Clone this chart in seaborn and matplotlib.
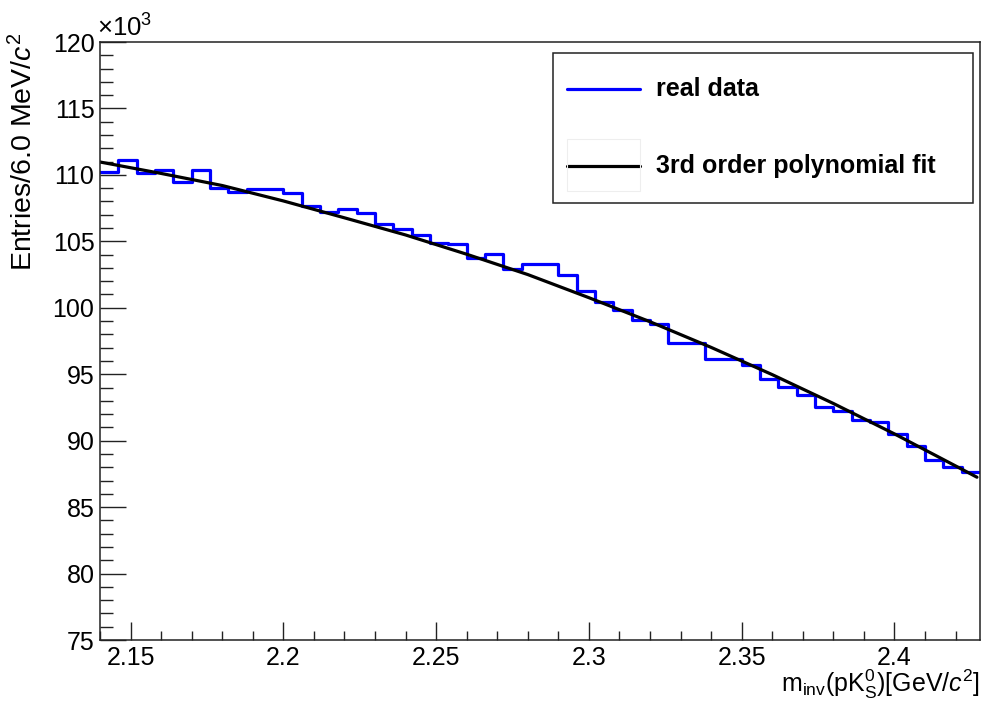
import numpy as np
import pandas as pd
import matplotlib
matplotlib.use("Agg")
import matplotlib.pyplot as plt
import seaborn as sns
from matplotlib.ticker import MultipleLocator, FormatStrFormatter
from matplotlib.patches import Rectangle
from matplotlib.lines import Line2D

# histogram binning: 48 bins of 6 MeV starting at 2.140 GeV
bin_lo = 2.140
bin_width = 0.006

# entries per bin (x10^3)
counts = [110.24, 111.12, 110.17, 110.37, 109.44, 110.37, 108.99, 108.74,
          108.92, 108.92, 108.67, 107.65, 107.23, 107.43, 107.11, 106.28,
          105.91, 105.48, 104.85, 104.78, 103.72, 104.05, 102.90, 103.30,
          103.30, 102.47, 101.29, 100.41, 99.83, 99.08, 98.78, 97.33,
          97.33, 96.15, 96.15, 95.70, 94.62, 94.07, 93.44, 92.56,
          92.23, 91.56, 91.43, 90.48, 89.63, 88.55, 88.04, 87.62]

# 3rd order polynomial fit curve (x10^3), read at a few points
fit_x = [2.140, 2.160, 2.180, 2.200, 2.220, 2.240, 2.260, 2.280,
         2.300, 2.320, 2.340, 2.360, 2.380, 2.400, 2.420, 2.427]
fit_y = [110.97, 110.11, 109.20, 108.04, 106.77, 105.48, 104.03, 102.50,
         100.76, 98.95, 97.02, 94.97, 92.80, 90.51, 88.10, 87.25]

sns.set_style("white")
plt.rcParams["font.family"] = ["Liberation Sans", "DejaVu Sans"]
plt.rcParams["text.color"] = "black"
plt.rcParams["mathtext.fontset"] = "custom"
plt.rcParams["mathtext.rm"] = "Liberation Sans"
plt.rcParams["mathtext.it"] = "Liberation Sans:italic"

nbins = len(counts)
bin_hi = bin_lo + nbins * bin_width
centers = bin_lo + bin_width * (np.arange(nbins) + 0.5)
hist_df = pd.DataFrame({"m": centers, "n": counts})
fit_df = pd.DataFrame({"m": fit_x, "f": fit_y})

fig = plt.figure(figsize=(9.83, 7.04), dpi=100)
W, H = 983, 704
ax = fig.add_axes([100 / W, 1 - 640 / H, 880 / W, 598 / H])

sns.histplot(data=hist_df, x="m", weights="n", bins=nbins,
             binrange=(bin_lo, bin_hi), element="step",
             fill=False, color="#0000ff", linewidth=2.3, ax=ax)
sns.lineplot(data=fit_df, x="m", y="f", color="black", linewidth=2.3, ax=ax)

ax.set_xlim(2.14, 2.428)
ax.set_ylim(75, 120)
ax.set_xlabel("")
ax.set_ylabel("")

ax.xaxis.set_major_locator(MultipleLocator(0.05))
ax.xaxis.set_minor_locator(MultipleLocator(0.01))
ax.xaxis.set_major_formatter(FormatStrFormatter("%g"))
ax.yaxis.set_major_locator(MultipleLocator(5))
ax.yaxis.set_minor_locator(MultipleLocator(1))

ax.tick_params(axis="both", which="both", direction="in", top=False, right=False,
               bottom=True, left=True, color="#222222", width=1.0,
               labelsize=18, labelcolor="black")
ax.tick_params(axis="y", which="major", length=19, pad=4)
ax.tick_params(axis="y", which="minor", length=9.5)
ax.tick_params(axis="x", which="major", length=13, pad=4)
ax.tick_params(axis="x", which="minor", length=6.5)
for s in ax.spines.values():
    s.set_linewidth(1.1)
    s.set_color("#222222")

# axis titles, ROOT style (aligned to the axis ends)
fig.text(980 / W, 1 - 692 / H, r"m$_{\rm inv}$(pK$^{0}_{\rm S}$)[GeV/$c^{2}$]",
         ha="right", va="baseline", fontsize=18)
fig.text(24 / W, 1 - 33 / H, r"Entries/6.0 MeV/$c^{2}$", rotation=90,
         ha="center", va="top", fontsize=20.5)
ax.text(-0.003, 1.0, r"×10$^{3}$", transform=ax.transAxes,
        ha="left", va="bottom", fontsize=18.5)

# legend box
x0, x1 = (553 - 100) / 880, (973 - 100) / 880
y0, y1 = (640 - 203) / 598, (640 - 53) / 598
ax.add_patch(Rectangle((x0, y0), x1 - x0, y1 - y0, transform=ax.transAxes,
                       facecolor="white", edgecolor="#222222", lw=1.1, zorder=5))
lx0, lx1 = (567 - 100) / 880, (640 - 100) / 880
ty = (656 - 100) / 880
entries = [("real data", "#0000ff", 89), ("3rd order polynomial fit", "black", 166)]
for label, col, py in entries:
    yy = (640 - py) / 598
    ax.add_line(Line2D([lx0, lx1], [yy, yy], transform=ax.transAxes,
                       color=col, lw=2.3, zorder=6))
    ax.text(ty, yy, label, transform=ax.transAxes, ha="left", va="center",
            fontsize=18, fontweight="bold", zorder=6)
ax.add_patch(Rectangle((lx0, (640 - 191) / 598), lx1 - lx0, 52 / 598,
                       transform=ax.transAxes, facecolor="none",
                       edgecolor="#eeeeee", lw=0.8, zorder=6))

fig.savefig("out.png", dpi=100)
